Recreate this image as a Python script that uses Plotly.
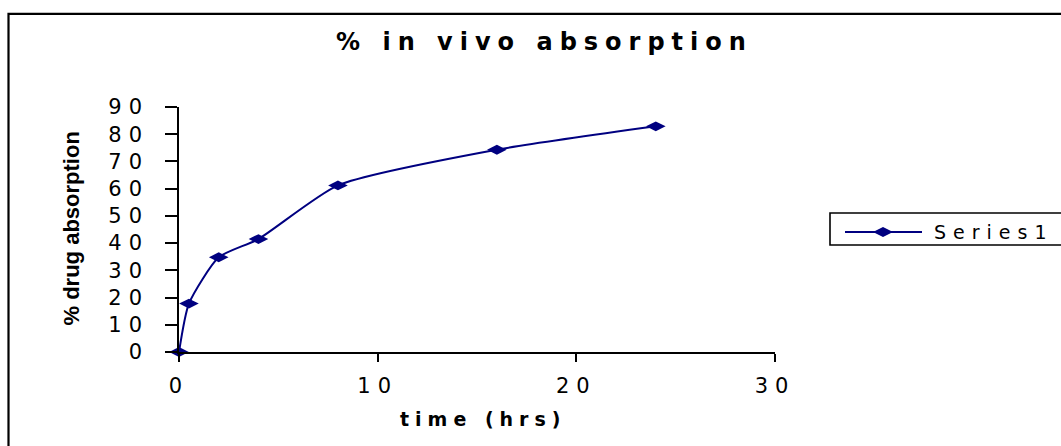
import plotly.graph_objects as go

# Percent drug absorbed in vivo over time
time_hrs = [0, 0.5, 2, 4, 8, 16, 24]
absorption = [0, 17.8, 34.8, 41.5, 61.2, 74.3, 82.9]

series_name = "Series1"
chart_title = "% in vivo absorption"
x_title = "time (hrs)"
y_title = "% drug absorption"
x_ticks = [0, 10, 20, 30]
y_ticks = [0, 10, 20, 30, 40, 50, 60, 70, 80, 90]

NAVY = "#000080"
W, H = 1061, 446
L, R, T, B = 179, 286, 107, 94
PW, PH = W - L - R, H - T - B


def px_x(px):
    """Pixel column -> paper x."""
    return (px - L) / PW


def px_y(py):
    """Pixel row -> paper y."""
    return (H - B - py) / PH


def spaced(text, gap):
    return f'<span style="letter-spacing:{gap}px">{text}</span>'


fig = go.Figure(
    go.Scatter(
        x=time_hrs,
        y=absorption,
        name=series_name,
        mode="lines+markers",
        line=dict(color=NAVY, width=2, shape="spline", smoothing=0.6),
        marker=dict(symbol="diamond-wide", size=14, color=NAVY),
        cliponaxis=False,
        showlegend=False,
    )
)

tick_font = dict(family="DejaVu Sans", size=21, color="black")

fig.update_xaxes(
    range=[0, 30],
    tickvals=x_ticks,
    ticktext=[spaced(str(v), 7) for v in x_ticks],
    tickfont=tick_font,
    showgrid=False,
    zeroline=False,
    showline=True,
    linecolor="black",
    linewidth=1.5,
    ticks="outside",
    ticklen=8,
    tickwidth=1.5,
    tickcolor="black",
    ticklabelstandoff=6,
)
fig.update_yaxes(
    range=[0, 90],
    tickvals=y_ticks,
    ticktext=[spaced(str(v), 7) for v in y_ticks],
    tickfont=tick_font,
    showgrid=False,
    zeroline=False,
    showline=True,
    linecolor="black",
    linewidth=1.5,
    ticks="outside",
    ticklen=12,
    tickwidth=1.5,
    tickcolor="black",
    ticklabelstandoff=12,
)

# chart frame and legend box
shapes = [
    dict(type="rect", xref="paper", yref="paper",
         x0=px_x(8.5), x1=px_x(1080), y0=px_y(470), y1=px_y(13.8),
         line=dict(color="black", width=2.2), fillcolor="rgba(0,0,0,0)", layer="below"),
    dict(type="rect", xref="paper", yref="paper",
         x0=px_x(830), x1=px_x(1080), y0=px_y(245), y1=px_y(213),
         line=dict(color="black", width=1.6), fillcolor="rgba(0,0,0,0)"),
    dict(type="line", xref="paper", yref="paper",
         x0=px_x(845), x1=px_x(922), y0=px_y(232), y1=px_y(232),
         line=dict(color=NAVY, width=2)),
]
cx, cy = 883, 232
diamond = (f"M {px_x(cx - 10)},{px_y(cy)} L {px_x(cx)},{px_y(cy - 5)} "
           f"L {px_x(cx + 10)},{px_y(cy)} L {px_x(cx)},{px_y(cy + 5)} Z")
shapes.append(dict(type="path", xref="paper", yref="paper", path=diamond,
                   fillcolor=NAVY, line=dict(color=NAVY, width=0)))

annotations = [
    dict(text=spaced(f"<b>{chart_title}</b>", 7), xref="paper", yref="paper",
         x=px_x(544), y=px_y(42), xanchor="center", yanchor="middle", showarrow=False,
         font=dict(family="DejaVu Sans", size=24, color="black")),
    dict(text=spaced(f"<b>{x_title}</b>", 6), xref="paper", yref="paper",
         x=px_x(483), y=px_y(419), xanchor="center", yanchor="middle", showarrow=False,
         font=dict(family="DejaVu Sans", size=19, color="black")),
    dict(text=f"<b>{y_title}</b>", xref="paper", yref="paper", textangle=-90,
         x=px_x(71), y=px_y(228.5), xanchor="center", yanchor="middle", showarrow=False,
         font=dict(family="Liberation Sans", size=22, color="black")),
    dict(text=spaced(series_name, 7), xref="paper", yref="paper",
         x=px_x(932), y=px_y(232), xanchor="left", yanchor="middle", showarrow=False,
         font=dict(family="DejaVu Sans", size=19, color="black")),
]

fig.update_layout(
    width=W,
    height=H,
    margin=dict(l=L, r=R, t=T, b=B, pad=0),
    paper_bgcolor="white",
    plot_bgcolor="white",
    showlegend=False,
    shapes=shapes,
    annotations=annotations,
)

fig.write_html("out.html")
